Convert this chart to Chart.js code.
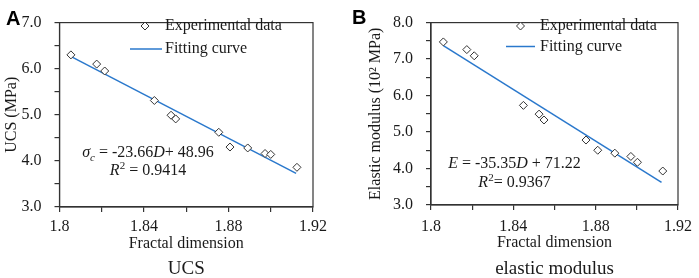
<!DOCTYPE html>
<html>
<head>
<meta charset="utf-8">
<script src="https://cdn.jsdelivr.net/npm/chart.js@4.4.0/dist/chart.umd.min.js"></script>
<style>
  body { margin: 0; background: #fff; }
  #wrap { position: relative; width: 699px; height: 278px; }
  canvas { position: absolute; top: 0; }
</style>
</head>
<body>
<div id="wrap">
  <canvas id="ucsChart" width="349" height="278" style="left:0"></canvas>
  <canvas id="modulusChart" width="349" height="278" style="left:350px"></canvas>
</div>
<script>
// Data
const xTickLabels = ['1.8', '1.84', '1.88', '1.92'];

// Panel A - UCS vs fractal dimension
const ucsFractal = [1.8054, 1.8176, 1.8214, 1.8449, 1.8528, 1.8550, 1.8754, 1.8807, 1.8891, 1.8973, 1.9000, 1.9124];
const ucsValues  = [6.30, 6.10, 5.95, 5.31, 4.99, 4.91, 4.62, 4.30, 4.28, 4.16, 4.14, 3.86];
const ucsFitX = [1.806, 1.912];
const ucsFitY = [6.25, 3.73];

// Panel B - elastic modulus vs fractal dimension
const modFractal = [1.8060, 1.8174, 1.8210, 1.8449, 1.8525, 1.8549, 1.8753, 1.8810, 1.8893, 1.8971, 1.9003, 1.9126];
const modValues  = [7.47, 7.26, 7.09, 5.73, 5.49, 5.33, 4.78, 4.50, 4.42, 4.33, 4.17, 3.93];
const modFitX = [1.806, 1.912];
const modFitY = [7.37, 3.62];

const serif = "'Liberation Serif', 'Times New Roman', serif";
const sans = "'Liberation Sans', Arial, sans-serif";
const axisColor = '#333';
const textColor = '#1a1a1a';
const fitColor = '#2a78cc';

// draws frame, legend, equation and panel letter on top of the chart
const overlayPlugin = {
    id: 'overlay',
    afterDraw(chart, args, o) {
        const ctx = chart.ctx;
        const a = chart.chartArea;
        ctx.save();

        // box around plot area
        ctx.strokeStyle = axisColor;
        ctx.lineWidth = 1.2;
        ctx.strokeRect(a.left, a.top, a.right - a.left, a.bottom - a.top);

        // legend
        const pts = chart.data.datasets[0];
        const fit = chart.data.datasets[1];
        ctx.font = '16px ' + serif;
        ctx.fillStyle = textColor;
        ctx.textAlign = 'left';
        ctx.textBaseline = 'middle';
        ctx.fillText(pts.label, o.legend.textX, o.legend.row1);
        ctx.fillText(fit.label, o.legend.textX, o.legend.row2);

        ctx.fillStyle = '#fff';
        ctx.strokeStyle = pts.borderColor;
        ctx.lineWidth = pts.borderWidth;
        Chart.helpers.drawPoint(ctx, { pointStyle: 'rectRot', radius: pts.pointRadius, borderWidth: pts.borderWidth },
            o.legend.markX, o.legend.row1);

        ctx.strokeStyle = fit.borderColor;
        ctx.lineWidth = fit.borderWidth;
        ctx.beginPath();
        ctx.moveTo(o.legend.lineX0, o.legend.row2);
        ctx.lineTo(o.legend.lineX1, o.legend.row2);
        ctx.stroke();

        // regression equation, centred lines with italic / sub / sup parts
        ctx.fillStyle = textColor;
        ctx.textBaseline = 'alphabetic';
        o.equation.lines.forEach((segs, i) => {
            const fonts = segs.map(s => (s.i ? 'italic ' : '') + ((s.sub || s.sup) ? '11px ' : '16px ') + serif);
            let total = 0;
            const widths = segs.map((s, k) => { ctx.font = fonts[k]; const w = ctx.measureText(s.t).width; total += w; return w; });
            let x = o.equation.cx - total / 2;
            const y = o.equation.baselines[i];
            segs.forEach((s, k) => {
                ctx.font = fonts[k];
                ctx.fillText(s.t, x, y + (s.sub ? 4 : 0) + (s.sup ? -6 : 0));
                x += widths[k];
            });
        });

        // panel letter
        ctx.font = 'bold 20px ' + sans;
        ctx.fillStyle = '#000';
        ctx.fillText(o.letter.text, o.letter.x, o.letter.y);

        ctx.restore();
    }
};

function buildChart(id, cfg) {
    const ctx = document.getElementById(id).getContext('2d');
    return new Chart(ctx, {
        type: 'scatter',
        data: {
            datasets: [{
                label: 'Experimental data',
                data: cfg.xs.map((x, i) => ({ x: x, y: cfg.ys[i] })),
                pointStyle: 'rectRot',
                pointRadius: 4,
                borderWidth: 1,
                borderColor: axisColor,
                backgroundColor: '#fff',
                order: 1
            }, {
                label: 'Fitting curve',
                type: 'line',
                data: cfg.fitX.map((x, i) => ({ x: x, y: cfg.fitY[i] })),
                borderColor: fitColor,
                borderWidth: 1.5,
                pointRadius: 0,
                fill: false,
                order: 2
            }]
        },
        options: {
            responsive: false,
            animation: false,
            layout: { padding: cfg.padding },
            plugins: {
                legend: { display: false },
                tooltip: { enabled: false },
                title: {
                    display: true,
                    position: 'bottom',
                    fullSize: false,
                    text: cfg.bottomTitle,
                    color: textColor,
                    font: { family: serif, size: 19, weight: 'normal', lineHeight: 0.95 },
                    padding: 0
                },
                overlay: cfg.overlay
            },
            scales: {
                x: {
                    type: 'linear',
                    min: 1.8,
                    max: 1.92,
                    afterFit: s => { s.height = cfg.xAxisHeight; },
                    border: { display: true, color: axisColor, width: 1.2 },
                    grid: { drawOnChartArea: false, drawTicks: true, tickLength: 5, color: axisColor, lineWidth: 1.2 },
                    ticks: {
                        stepSize: 0.02,
                        autoSkip: false,
                        maxRotation: 0,
                        padding: cfg.xTickPad,
                        color: textColor,
                        font: { family: serif, size: 16 },
                        callback: v => {
                            const lbl = String(+v.toFixed(2));
                            return xTickLabels.includes(lbl) ? lbl : '';
                        }
                    },
                    title: {
                        display: true,
                        text: 'Fractal dimension',
                        color: textColor,
                        font: { family: serif, size: 16 },
                        padding: { top: 0, bottom: cfg.xTitlePad }
                    }
                },
                y: {
                    min: 3,
                    max: cfg.yMax,
                    afterFit: s => { s.width = cfg.yAxisWidth; },
                    border: { display: true, color: axisColor, width: 1.2 },
                    grid: { drawOnChartArea: false, drawTicks: true, tickLength: 5, color: axisColor, lineWidth: 1.2 },
                    ticks: {
                        stepSize: 0.5,
                        autoSkip: false,
                        padding: 13,
                        color: textColor,
                        font: { family: serif, size: 16 },
                        callback: v => Math.abs(v - Math.round(v)) < 1e-6 ? v.toFixed(1) : ''
                    },
                    title: {
                        display: true,
                        text: cfg.yTitle,
                        color: textColor,
                        font: { family: serif, size: 16 },
                        padding: { top: cfg.yTitlePad, bottom: 0 }
                    }
                }
            }
        },
        plugins: [overlayPlugin]
    });
}

buildChart('ucsChart', {
    xs: ucsFractal, ys: ucsValues, fitX: ucsFitX, fitY: ucsFitY,
    yMax: 7, yTitle: 'UCS (MPa)', bottomTitle: 'UCS',
    padding: { left: 0, top: 7, right: 36, bottom: 0 },
    yAxisWidth: 59.5, xAxisHeight: 53, xTickPad: 5, xTitlePad: 7, yTitlePad: 2.5,
    overlay: {
        legend: { markX: 145, textX: 165, row1: 26, row2: 49, lineX0: 130, lineX1: 162 },
        equation: {
            cx: 148, baselines: [156.5, 175],
            lines: [
                [{ t: 'σ', i: true }, { t: 'c', i: true, sub: true }, { t: ' = -23.66' }, { t: 'D', i: true }, { t: '+ 48.96' }],
                [{ t: 'R', i: true }, { t: '2', sup: true }, { t: ' = 0.9414' }]
            ]
        },
        letter: { text: 'A', x: 6, y: 24.5 }
    }
});

buildChart('modulusChart', {
    xs: modFractal, ys: modValues, fitX: modFitX, fitY: modFitY,
    yMax: 8, yTitle: 'Elastic modulus (10² MPa)', bottomTitle: 'elastic modulus',
    padding: { left: 0, top: 8, right: 15, bottom: 0 },
    yAxisWidth: 81, xAxisHeight: 55, xTickPad: 7, xTitlePad: 7.5, yTitlePad: 16.5,
    overlay: {
        legend: { markX: 170.5, textX: 190, row1: 26, row2: 46.5, lineX0: 156, lineX1: 185 },
        equation: {
            cx: 164.5, baselines: [168.3, 186.7],
            lines: [
                [{ t: 'E', i: true }, { t: ' = -35.35' }, { t: 'D', i: true }, { t: ' + 71.22' }],
                [{ t: 'R', i: true }, { t: '2', sup: true }, { t: '= 0.9367' }]
            ]
        },
        letter: { text: 'B', x: 2, y: 23.5 }
    }
});
</script>
</body>
</html>
